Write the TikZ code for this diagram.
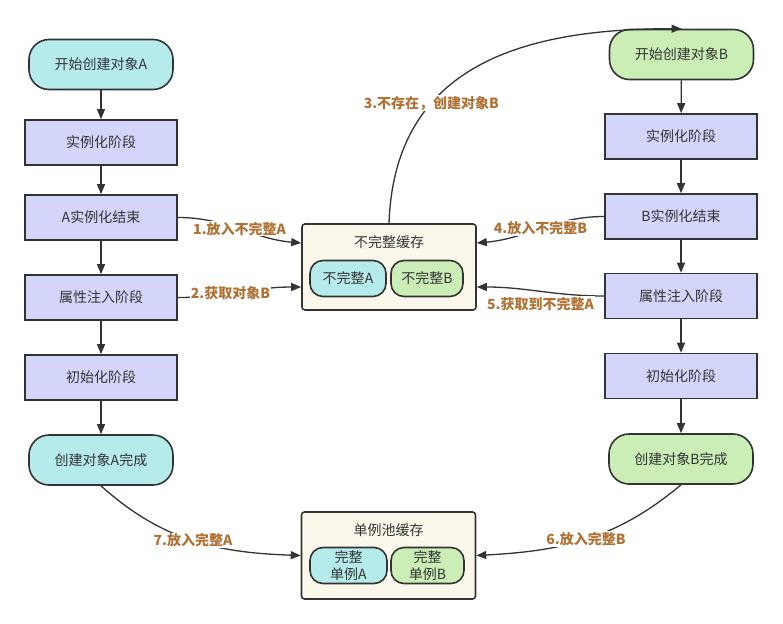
\documentclass[tikz,border=0pt]{standalone}
\usepackage{fontspec}
\setmainfont{Noto Sans CJK SC}
\usetikzlibrary{arrows.meta}
\definecolor{cyanfill}{RGB}{182,235,235}
\definecolor{greenfill}{RGB}{202,238,182}
\definecolor{stagefill}{RGB}{211,214,250}
\definecolor{cachefill}{RGB}{251,248,235}
\definecolor{labelbrown}{RGB}{176,113,52}
\definecolor{edgegray}{RGB}{51,51,51}
\begin{document}
\begin{tikzpicture}[x=1pt, y=-1pt,
    font=\fontsize{14}{16}\selectfont,
    stage/.style={draw=edgegray, line width=1.6pt, fill=stagefill, text=edgegray,
        minimum width=152pt, minimum height=45pt, inner sep=0pt},
    pill/.style={draw=edgegray, line width=1.6pt, rounded corners=20pt, text=edgegray,
        minimum width=144pt, minimum height=50pt, inner sep=0pt},
    cachebox/.style={draw=edgegray, line width=1.6pt, fill=cachefill, rounded corners=3pt,
        minimum width=174pt, inner sep=0pt},
    cachetitle/.style={text=edgegray, inner sep=0pt},
    item/.style={draw=edgegray, line width=1.6pt, rounded corners=13pt, text=edgegray,
        minimum height=36pt, inner sep=0pt, align=center, font=\fontsize{14}{17}\selectfont},
    flow/.style={draw=edgegray, line width=1.3pt, -{Triangle[length=10pt, width=8pt]}},
    steplabel/.style={fill=white, text=labelbrown, inner sep=1pt,
        font=\fontsize{14}{16}\selectfont\bfseries}
]
    \useasboundingbox (0, 0) rectangle (783, 623);

    \node[pill, fill=cyanfill] (startA) at (101, 64.5) {开始创建对象A};
    \node[stage] (instA) at (101, 142.5) {实例化阶段};
    \node[stage] (instEndA) at (101, 217.5) {A实例化结束};
    \node[stage] (injectA) at (101, 297.5) {属性注入阶段};
    \node[stage] (initA) at (101, 377.5) {初始化阶段};
    \node[pill, fill=cyanfill] (doneA) at (101, 460) {创建对象A完成};

    \node[pill, fill=greenfill] (startB) at (681.5, 54.5) {开始创建对象B};
    \node[stage] (instB) at (681, 136.5) {实例化阶段};
    \node[stage] (instEndB) at (681, 216.5) {B实例化结束};
    \node[stage] (injectB) at (681, 296) {属性注入阶段};
    \node[stage] (initB) at (681, 376) {初始化阶段};
    \node[pill, fill=greenfill] (doneB) at (681, 459) {创建对象B完成};

    \node[cachebox, minimum height=86pt] (halfcache) at (389, 267) {};
    \node[cachetitle] (halftitle) at (389, 242) {不完整缓存};
    \node[item, fill=cyanfill, minimum width=76pt] (halfA) at (348, 278.5) {不完整A};
    \node[item, fill=greenfill, minimum width=72pt] (halfB) at (427, 278.5) {不完整B};

    \node[cachebox, minimum height=87pt] (pool) at (388.5, 555.5) {};
    \node[cachetitle] (pooltitle) at (388.5, 530) {单例池缓存};
    \node[item, fill=cyanfill, minimum width=77pt] (fullA) at (348.5, 565.5) {完整\\单例A};
    \node[item, fill=greenfill, minimum width=73pt] (fullB) at (427.5, 565.5) {完整\\单例B};

    \draw[flow] (startA) -- (instA);
    \draw[flow] (instA) -- (instEndA);
    \draw[flow] (instEndA) -- (injectA);
    \draw[flow] (injectA) -- (initA);
    \draw[flow] (initA) -- (doneA);

    \draw[flow] (startB) -- (instB);
    \draw[flow] (instB) -- (instEndB);
    \draw[flow] (instEndB) -- (injectB);
    \draw[flow] (injectB) -- (initB);
    \draw[flow] (initB) -- (doneB);

    \draw[flow] (instEndA.east) to[out=0, in=175]
        node[steplabel] (put1) {1.放入不完整A} ([yshift=24pt]halfcache.west);
    \draw[flow] (injectA.east) to[out=0, in=180]
        node[steplabel, pos=0.42] (get2) {2.获取对象B} ([yshift=-20pt]halfcache.west);
    \draw[flow] (halfcache.north) to[out=88, in=180, looseness=1.15]
        node[steplabel, pos=0.33] (create3) {3.不存在，创建对象B} (startB.north);
    \draw[flow] (instEndB.west) to[out=180, in=5]
        node[steplabel] (put4) {4.放入不完整B} ([yshift=24pt]halfcache.east);
    \draw[flow] (injectB.west) to[out=180, in=0]
        node[steplabel, below=4pt] (get5) {5.获取到不完整A} ([yshift=-20pt]halfcache.east);
    \draw[flow] (doneB.south) to[out=-140, in=3]
        node[steplabel] (put6) {6.放入完整B} (pool.east);
    \draw[flow] (doneA.south) to[out=-42, in=178]
        node[steplabel] (put7) {7.放入完整A} (pool.west);
\end{tikzpicture}
\end{document}
